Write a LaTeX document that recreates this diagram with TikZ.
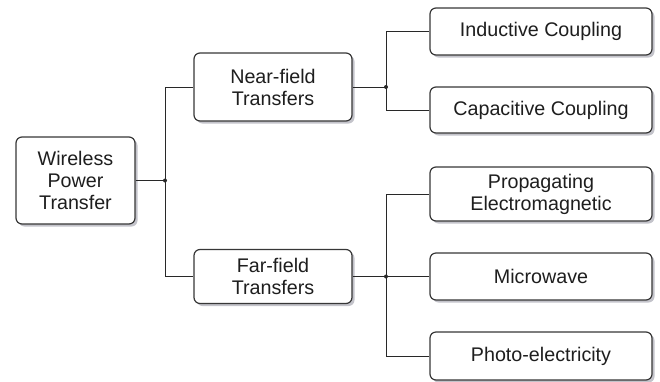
\documentclass[tikz,border=0pt]{standalone}
\usepackage{fontspec}
\setmainfont{Liberation Sans}
\usepackage{xcolor}
\usepackage{tikz}
\usetikzlibrary{calc,positioning,shadows}
\definecolor{cEdge}{RGB}{55,55,55}
\definecolor{cLine}{RGB}{40,40,40}
\definecolor{cShade}{RGB}{170,170,180}
\definecolor{cText}{RGB}{30,30,30}

\begin{document}
\begin{tikzpicture}[x=1pt,y=-1pt,
  wpbox/.style={draw=cEdge,line width=1.2pt,rounded corners=6pt,fill=white,
    align=center,inner sep=0pt,text=cText,
    drop shadow={shadow xshift=2.5pt,shadow yshift=-2.5pt,fill=cShade,opacity=0.7}},
  link/.style={draw=cLine,line width=1pt}]
  \useasboundingbox (0,0) rectangle (660,381);
  \fontsize{19.7}{22}\selectfont
  % root and the two branches
  \node[wpbox,minimum width=119pt,minimum height=87pt] (root) at (75.5,180.5) {Wireless\\Power\\Transfer};
  \node[wpbox,minimum width=158pt,minimum height=68pt] (near) at (273,87) {Near-field\\Transfers};
  \node[wpbox,minimum width=158pt,minimum height=54pt] (far) at (273,276.5) {Far-field\\Transfers};
  % leaves
  \node[wpbox,minimum width=222pt,minimum height=47pt] (ind) at (541,31.5) {Inductive Coupling};
  \node[wpbox,minimum width=222pt,minimum height=46pt] (cap) at (541,110) {Capacitive Coupling};
  \node[wpbox,minimum width=222pt,minimum height=54pt] (prop) at (541,194) {Propagating\\Electromagnetic};
  \node[wpbox,minimum width=222pt,minimum height=47pt] (micro) at (541,276.5) {Microwave};
  \node[wpbox,minimum width=222pt,minimum height=48pt] (photo) at (541,356) {Photo-electricity};
  % junctions
  \coordinate (jroot) at (165,180.5);
  \coordinate (jnear) at (386,87);
  \coordinate (jfar) at (386,276.5);
  \draw[link] (root.east) -- (jroot);
  \draw[link] (jroot) |- (near.west);
  \draw[link] (jroot) |- (far.west);
  \draw[link] (near.east) -- (jnear);
  \draw[link] (jnear) |- (ind.west);
  \draw[link] (jnear) |- (cap.west);
  \draw[link] (far.east) -- (jfar);
  \draw[link] (jfar) |- (prop.west);
  \draw[link] (jfar) -- (micro.west);
  \draw[link] (jfar) |- (photo.west);
  \foreach \j in {jroot,jnear,jfar}
    \fill[cLine] (\j) circle (2pt);
\end{tikzpicture}
\end{document}
